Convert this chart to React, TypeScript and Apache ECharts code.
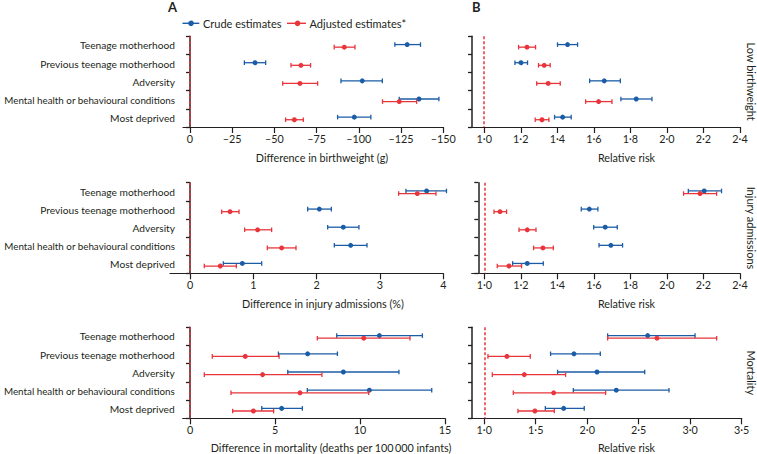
import React, { useEffect, useRef } from 'react';
import * as echarts from 'echarts';

const categories = [
  'Teenage motherhood',
  'Previous teenage motherhood',
  'Adversity',
  'Mental health or behavioural conditions',
  'Most deprived',
];

// each row: [estimate, lower CI, upper CI]
const bwCrude = [[-128.6, -121.3, -136.5], [-38.5, -32.2, -44.8], [-102, -89.4, -113.9], [-135.6, -123.9, -147.4], [-97.3, -87.4, -107.1]];
const bwAdj = [[-91.4, -85.4, -97.7], [-65.7, -59.8, -71.4], [-65.1, -54.9, -75.6], [-123.9, -114, -134.2], [-61.8, -56.6, -67.1]];
const lbwCrude = [[1.456, 1.401, 1.511], [1.201, 1.168, 1.237], [1.657, 1.577, 1.745], [1.832, 1.748, 1.918], [1.429, 1.385, 1.476]];
const lbwAdj = [[1.234, 1.188, 1.281], [1.328, 1.297, 1.361], [1.35, 1.287, 1.416], [1.626, 1.555, 1.699], [1.316, 1.279, 1.354]];
const injCrude = [[3.737, 3.41, 4.05], [2.042, 1.858, 2.232], [2.421, 2.174, 2.668], [2.537, 2.279, 2.795], [0.826, 0.526, 1.132]];
const injAdj = [[3.589, 3.295, 3.884], [0.632, 0.5, 0.774], [1.068, 0.863, 1.289], [1.447, 1.221, 1.674], [0.479, 0.226, 0.732]];
const injRrCrude = [[2.204, 2.117, 2.299], [1.575, 1.531, 1.622], [1.662, 1.599, 1.728], [1.693, 1.628, 1.757], [1.235, 1.155, 1.323]];
const injRrAdj = [[2.181, 2.091, 2.272], [1.086, 1.053, 1.122], [1.235, 1.19, 1.283], [1.321, 1.27, 1.378], [1.135, 1.071, 1.204]];
const mortCrude = [[11.14, 8.63, 13.67], [6.92, 5.2, 8.67], [9.02, 5.75, 12.29], [10.55, 6.9, 14.22], [5.39, 4.22, 6.61]];
const mortAdj = [[10.22, 7.49, 12.94], [3.25, 1.31, 5.24], [4.27, 0.84, 7.76], [6.47, 2.41, 10.51], [3.73, 2.51, 4.92]];
const mortRrCrude = [[2.587, 2.198, 3.047], [1.871, 1.644, 2.127], [2.095, 1.712, 2.558], [2.282, 1.865, 2.794], [1.771, 1.593, 1.971]];
const mortRrAdj = [[2.677, 2.198, 3.257], [1.22, 1.036, 1.447], [1.389, 1.078, 1.79], [1.674, 1.282, 2.179], [1.492, 1.327, 1.68]];

const bwTicks = [0, -25, -50, -75, -100, -125, -150];
const injTicks = [0, 1, 2, 3, 4];
const mortTicks = [0, 5, 10, 15];
const rrTicksA = [1.0, 1.2, 1.4, 1.6, 1.8, 2.0, 2.2, 2.4];
const rrTicksB = [1.0, 1.5, 2.0, 2.5, 3.0, 3.5];

const rowLabels = ['Low birthweight', 'Injury admissions', 'Mortality'];
const xTitles = [
  'Difference in birthweight (g)',
  'Difference in injury admissions (%)',
  'Difference in mortality (deaths per 100\u2009000 infants)',
];

const BLUE = '#1b5ca6';
const RED = '#e8353b';
const INK = '#231f20';
const TXT = '#231f20';
const FONT = 'Lato, "Noto Sans", sans-serif';

const rows = [
  { top: 36.3, h: 90.7 },
  { top: 182.7, h: 90.6 },
  { top: 327.3, h: 91 },
];

const rr = (v: number) => v.toFixed(1).replace('.', '\u00b7');

const panels = [
  { row: 0, col: 0, left: 183, width: 260.3, yOff: 0, min: -150, max: 4.14, inverse: true, ticks: bwTicks, ref: 0, crude: bwCrude, adj: bwAdj, fmt: (v: number) => (v === 0 ? '0' : '\u2013' + Math.abs(v)) },
  { row: 0, col: 1, left: 472, width: 268, yOff: 0, min: 0.933, max: 2.4, inverse: false, ticks: rrTicksA, ref: 1, crude: lbwCrude, adj: lbwAdj, fmt: rr },
  { row: 1, col: 0, left: 170, width: 273.3, yOff: -13, min: -0.316, max: 4, inverse: false, ticks: injTicks, ref: 0, crude: injCrude, adj: injAdj, fmt: (v: number) => String(v) },
  { row: 1, col: 1, left: 471.7, width: 268.3, yOff: -6.6, min: 0.931, max: 2.4, inverse: false, ticks: rrTicksA, ref: 1, crude: injRrCrude, adj: injRrAdj, fmt: rr },
  { row: 2, col: 0, left: 182.7, width: 262.3, yOff: 0, min: -0.43, max: 15, inverse: false, ticks: mortTicks, ref: 0, crude: mortCrude, adj: mortAdj, fmt: (v: number) => String(v) },
  { row: 2, col: 1, left: 472, width: 269.7, yOff: 0, min: 0.881, max: 3.5, inverse: false, ticks: rrTicksB, ref: 1, crude: mortRrCrude, adj: mortRrAdj, fmt: rr },
];

function makeRender(color: string, dy: number) {
  return (params: any, api: any) => {
    const cat = api.value(0);
    const p = api.coord([api.value(1), cat]);
    const lo = api.coord([api.value(2), cat]);
    const hi = api.coord([api.value(3), cat]);
    const y = p[1] + dy;
    const st = { stroke: color, lineWidth: 1.3 };
    return {
      type: 'group',
      children: [
        { type: 'line', shape: { x1: lo[0], y1: y, x2: hi[0], y2: y }, style: st },
        { type: 'line', shape: { x1: lo[0], y1: y - 2.3, x2: lo[0], y2: y + 2.3 }, style: st },
        { type: 'line', shape: { x1: hi[0], y1: y - 2.3, x2: hi[0], y2: y + 2.3 }, style: st },
        { type: 'circle', shape: { cx: p[0], cy: y, r: 2.5 }, style: { fill: color } },
      ],
    };
  };
}

export default function App() {
  const ref = useRef<HTMLDivElement>(null);
  useEffect(() => {
    if (!ref.current) return;
    const chart = echarts.init(ref.current, null, { renderer: 'svg' });
    const grid: any[] = [];
    const xAxis: any[] = [];
    const yAxis: any[] = [];
    const series: any[] = [];
    panels.forEach((pn, i) => {
      const r = rows[pn.row];
      grid.push({ left: pn.left, top: r.top, width: pn.width, height: r.h, outerBoundsMode: 'none', containLabel: false });
      xAxis.push({
        type: 'value', gridIndex: i, min: pn.min, max: pn.max, inverse: pn.inverse,
        splitLine: { show: false },
        axisLine: { show: true, onZero: false, lineStyle: { color: INK, width: 1.2 } },
        axisTick: { show: true, length: 6, lineStyle: { color: INK, width: 1.2 }, customValues: pn.ticks },
        axisLabel: { show: true, customValues: pn.ticks, formatter: pn.fmt, color: TXT, fontSize: 10.8, fontFamily: FONT, margin: 6 },
      });
      yAxis.push({
        type: 'category', gridIndex: i, data: categories, inverse: true, offset: pn.yOff,
        axisLine: { show: true, lineStyle: { color: INK, width: 1.5 } },
        axisTick: { show: true, length: 4, lineStyle: { color: INK, width: 1.3 } },
        axisLabel: {
          show: pn.col === 0, color: TXT, fontSize: 10.2, fontFamily: FONT, margin: 8,
          formatter: (v: string) => (v.length > 30 ? `{s|${v}}` : v),
          rich: { s: { fontSize: 9.8, fontFamily: FONT, color: TXT } },
        },
      });
      const toData = (arr: number[][]) => arr.map((d, k) => [k, d[0], d[1], d[2]]);
      series.push({
        type: 'custom', name: 'Crude estimates', xAxisIndex: i, yAxisIndex: i,
        data: toData(pn.crude), encode: { x: [1, 2, 3], y: 0 },
        renderItem: makeRender(BLUE, -0.8), itemStyle: { color: BLUE }, z: 3,
        markLine: {
          silent: true, symbol: ['none', 'none'], label: { show: false },
          lineStyle: { color: RED, type: [3, 2], width: 1.5 },
          data: [{ xAxis: pn.ref }],
        },
      });
      series.push({
        type: 'custom', name: 'Adjusted estimates*', xAxisIndex: i, yAxisIndex: i,
        data: toData(pn.adj), encode: { x: [1, 2, 3], y: 0 },
        renderItem: makeRender(RED, 1.8), itemStyle: { color: RED }, z: 4,
      });
    });

    const graphic: any[] = [
      { type: 'text', left: 168, top: 0, style: { text: 'A', font: `bold 13px ${FONT}`, fill: INK } },
      { type: 'text', left: 472, top: 0, style: { text: 'B', font: `bold 13px ${FONT}`, fill: INK } },
      { type: 'line', shape: { x1: 182.5, y1: 23.3, x2: 199.3, y2: 23.3 }, style: { stroke: BLUE, lineWidth: 1.4 } },
      { type: 'circle', shape: { cx: 191, cy: 23.3, r: 2.8 }, style: { fill: BLUE } },
      { type: 'text', x: 203, y: 23.3, style: { text: 'Crude estimates', font: `11px ${FONT}`, fill: TXT, textVerticalAlign: 'middle' } },
      { type: 'line', shape: { x1: 287, y1: 23.3, x2: 306, y2: 23.3 }, style: { stroke: RED, lineWidth: 1.4 } },
      { type: 'circle', shape: { cx: 297.5, cy: 23.3, r: 2.8 }, style: { fill: RED } },
      { type: 'text', x: 309.5, y: 23.3, style: { text: 'Adjusted estimates*', font: `11px ${FONT}`, fill: TXT, textVerticalAlign: 'middle' } },
    ];
    const titleY = [157, 303, 447.7];
    const titleXA = [322, 323, 331];
    rows.forEach((r, k) => {
      graphic.push({ type: 'text', x: titleXA[k], y: titleY[k], style: { text: xTitles[k], font: `10.8px ${FONT}`, fill: TXT, textAlign: 'center', textVerticalAlign: 'middle' } });
      graphic.push({ type: 'text', x: 626.5, y: titleY[k], style: { text: 'Relative risk', font: `10.8px ${FONT}`, fill: TXT, textAlign: 'center', textVerticalAlign: 'middle' } });
      graphic.push({ type: 'text', x: 751, y: r.top + r.h / 2, rotation: -Math.PI / 2, style: { text: rowLabels[k], font: `11px ${FONT}`, fill: TXT, textAlign: 'center', textVerticalAlign: 'middle' } });
    });

    chart.setOption({ animation: false, grid, xAxis, yAxis, series, graphic });
    return () => chart.dispose();
  }, []);
  return <div ref={ref} style={{ width: 757, height: 454, position: 'absolute', left: 0, top: 0 }} />;
}
